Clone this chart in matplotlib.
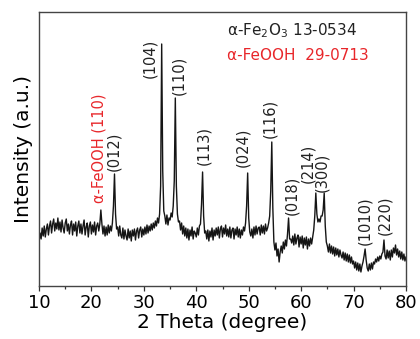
import numpy as np
import matplotlib
matplotlib.use("Agg")
import matplotlib.pyplot as plt

plt.rcParams['font.family'] = ['DejaVu Sans']
plt.rcParams['mathtext.default'] = 'regular'

# 2 theta grid: 10.0 .. 80.0 step 0.2 (351 points), intensity (a.u.)
two_theta = np.round(np.arange(351) * 0.2 + 10.0, 1)
intensity = [
    44, 53, 47, 58, 50, 60, 49, 57, 62, 51,      # 10.0-11.8
    60, 65, 53, 62, 67, 55, 63, 57, 68, 56,      # 12
    64, 54, 66, 58, 53, 63, 67, 55, 62, 52,      # 14
    61, 65, 51, 62, 55, 64, 50, 60, 65, 53,      # 16
    62, 52, 60, 66, 51, 59, 63, 49, 60, 64,      # 18
    52, 61, 54, 64, 51, 60, 63, 55, 62, 76,      # 20
    62, 52, 60, 50, 59, 51, 61, 53, 60, 55,      # 22
    63, 80, 112, 72, 57, 59, 50, 60, 51, 48,     # 24
    58, 47, 56, 50, 46, 57, 48, 55, 45, 56,      # 26
    50, 57, 46, 55, 58, 48, 56, 59, 49, 57,      # 28
    51, 59, 52, 61, 53, 60, 55, 62, 56, 63,      # 30
    58, 65, 60, 68, 63, 72, 100, 242, 115, 75,   # 32
    70, 62, 71, 61, 68, 66, 73, 69, 80, 105,     # 34
    188, 100, 72, 64, 65, 56, 63, 52, 60, 50,    # 36
    58, 48, 57, 46, 56, 50, 59, 47, 55, 53,      # 38
    49, 58, 51, 60, 62, 82, 114, 70, 53, 55,     # 40
    47, 56, 45, 55, 49, 58, 46, 56, 50, 58,      # 42
    51, 59, 48, 57, 60, 49, 58, 52, 61, 50,      # 44
    57, 49, 59, 48, 56, 58, 47, 57, 51, 59,      # 46
    49, 57, 48, 56, 51, 59, 55, 63, 80, 113,     # 48
    68, 54, 50, 57, 48, 59, 51, 60, 52, 58,      # 50
    59, 51, 61, 53, 60, 52, 62, 55, 58, 63,      # 52
    70, 95, 144, 78, 44, 36, 43, 30, 37, 24,     # 54
    34, 40, 33, 44, 37, 46, 40, 52, 68, 47,      # 56
    47, 43, 50, 41, 52, 42, 48, 51, 39, 49,      # 58
    42, 50, 38, 48, 41, 49, 37, 47, 40, 48,      # 60
    42, 49, 56, 70, 93, 72, 64, 67, 64, 70,      # 62
    70, 76, 93, 60, 44, 40, 34, 42, 33, 40,      # 64
    32, 39, 30, 38, 31, 37, 29, 36, 31, 28,      # 66
    34, 26, 33, 25, 32, 24, 31, 23, 29, 22,      # 68
    25, 18, 24, 16, 23, 15, 22, 14, 20, 24,      # 70
    30, 37, 26, 18, 15, 22, 16, 23, 17, 24,      # 72
    22, 27, 24, 29, 25, 30, 27, 32, 34, 46,      # 74
    30, 27, 36, 28, 35, 26, 36, 29, 38, 33,      # 76
    41, 31, 37, 29, 35, 27, 34, 26, 32, 25,      # 78
    29,                                          # 80
]

# peak labels: text, x position (deg), bottom of text (intensity units), colour
label_text = ['α-FeOOH (110)', '(012)', '(104)', '(110)', '(113)', '(024)', '(116)',
              '(018)', '(214)', '(300)', '(1010)', '(220)']
label_x = [21.4, 24.2, 31.2, 36.6, 41.5, 48.9, 54.05, 58.2, 61.3, 63.9, 72.2, 76.0]
label_y = [83, 115, 208, 191, 121, 119, 148, 71, 103, 94, 41, 51]
label_color = ['#e8262a'] + ['#222222'] * 11

xticks = [10, 20, 30, 40, 50, 60, 70, 80]

fig = plt.figure(figsize=(4.2, 3.39), dpi=100)
ax = fig.add_axes([39/420, 1 - 286/339, (406-39)/420, (286-12)/339])

ax.plot(two_theta, intensity, color='#151515', lw=1.0)
ax.set_xlim(10, 80)
ax.set_ylim(0, 274)
ax.set_xticks(xticks)
ax.set_xticks(np.arange(15, 80, 10), minor=True)
ax.set_yticks([])
ax.tick_params(axis='x', which='major', direction='out', length=3.5, width=0.9,
               labelsize=13, pad=2, color='#333333')
ax.tick_params(axis='x', which='minor', direction='out', length=2.5, width=0.9, color='#333333')
for s in ax.spines.values():
    s.set_linewidth(1.0)
    s.set_color('#444444')

ax.set_xlabel('2 Theta (degree)', fontsize=14.5, labelpad=1)
ax.set_ylabel('Intensity (a.u.)', fontsize=14.5, labelpad=4)

for t, x, y, c in zip(label_text, label_x, label_y, label_color):
    ax.text(x, y, t, rotation=90, ha='center', va='bottom', fontsize=10.5, color=c)

fig.text(227/420, 1 - 35/339, r'α-Fe$_2$O$_3$ 13-0534', fontsize=11, color='#222222',
         ha='left', va='baseline')
fig.text(227/420, 1 - 60/339, 'α-FeOOH  29-0713', fontsize=11, color='#e8262a',
         ha='left', va='baseline')

fig.savefig('out.png', dpi=100)
